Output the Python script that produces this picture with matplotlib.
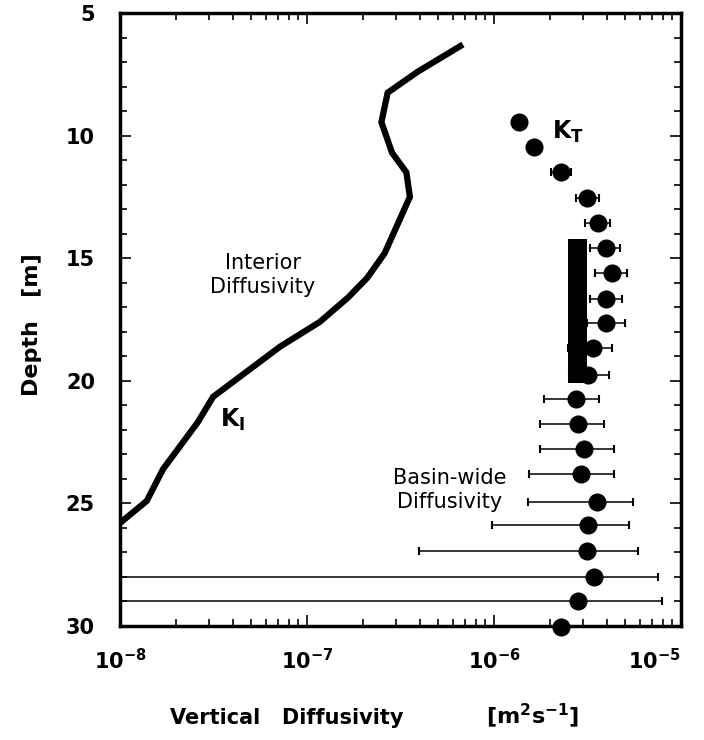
import matplotlib
matplotlib.use("Agg")
import matplotlib.pyplot as plt
import numpy as np
from matplotlib.ticker import FixedLocator, LogLocator, NullFormatter

plt.rcParams['mathtext.fontset'] = 'custom'
plt.rcParams['mathtext.rm'] = 'DejaVu Sans:bold'
plt.rcParams['mathtext.bf'] = 'DejaVu Sans:bold'

# interior diffusivity K_I profile
ki_depth = [6.35, 7.4, 8.25, 9.45, 10.7, 11.5, 12.5, 14.8, 15.8, 16.6, 17.6,
            18.6, 20.65, 21.7, 23.6, 24.9, 25.8, 26.3]
ki_val = [6.6e-7, 3.9e-7, 2.7e-7, 2.5e-7, 2.85e-7, 3.4e-7, 3.55e-7, 2.6e-7,
          2.1e-7, 1.66e-7, 1.17e-7, 7.2e-8, 3.15e-8, 2.6e-8, 1.7e-8, 1.39e-8,
          1.0e-8, 8.5e-9]

# basin-wide diffusivity K_T with error range (None = no bar)
kt_depth = [9.45, 10.45, 11.5, 12.55, 13.55, 14.6, 15.6, 16.65, 17.65, 18.65,
            19.75, 20.75, 21.75, 22.8, 23.8, 24.95, 25.9, 26.95, 28.0, 29.0, 30.05]
kt_val = [1.36e-6, 1.64e-6, 2.28e-6, 3.14e-6, 3.6e-6, 3.97e-6, 4.28e-6, 3.97e-6,
          3.97e-6, 3.38e-6, 3.19e-6, 2.75e-6, 2.81e-6, 3.03e-6, 2.92e-6, 3.56e-6,
          3.19e-6, 3.14e-6, 3.43e-6, 2.81e-6, 2.28e-6]
kt_lo = [None, None, 2.02e-6, 2.75e-6, 3.07e-6, 3.26e-6, 3.47e-6, 3.26e-6,
         3.13e-6, 2.49e-6, 2.52e-6, 1.85e-6, 1.76e-6, 1.76e-6, 1.54e-6, 1.52e-6,
         9.75e-7, 3.97e-7, 1e-9, 1e-9, None]
kt_hi = [None, None, 2.58e-6, 3.64e-6, 4.17e-6, 4.72e-6, 5.14e-6, 4.83e-6,
         5.03e-6, 4.28e-6, 4.12e-6, 3.64e-6, 3.87e-6, 4.39e-6, 4.39e-6, 5.53e-6,
         5.27e-6, 5.89e-6, 7.53e-6, 7.91e-6, None]

# black bar (tracer release estimate)
bar_depth = [14.2, 20.1]
bar_x = [2.5e-6, 3.15e-6]

xtick_vals = [1e-8, 1e-7, 1e-6, 1e-5]
xtick_labels = [r'$10^{-8}$', r'$10^{-7}$', r'$10^{-6}$', r'$10^{-5}$']
ytick_vals = [5, 10, 15, 20, 25, 30]

fig = plt.figure(figsize=(7.04, 7.40), dpi=100)
ax = fig.add_axes([120/704, 1-626/740, 561/704, 613/740])

ax.plot(ki_val, ki_depth, color='black', lw=4.5, solid_joinstyle='miter')

ax.fill_betweenx(bar_depth, bar_x[0], bar_x[1], color='black', lw=0, zorder=3)

idx = [i for i in range(len(kt_val)) if kt_lo[i] is not None]
ex = np.array([kt_val[i] for i in idx])
ey = np.array([kt_depth[i] for i in idx])
lo = np.array([kt_lo[i] for i in idx])
hi = np.array([kt_hi[i] for i in idx])
ax.errorbar(ex, ey, xerr=[ex - lo, hi - ex], fmt='none', ecolor='black',
            elinewidth=1.1, capsize=3, capthick=1.5, zorder=2)
ax.plot(kt_val, kt_depth, 'o', color='black', ms=12, zorder=4, clip_on=False)

ax.set_xscale('log')
ax.set_xlim(1e-8, 1e-5)
ax.set_ylim(30, 5)

ax.yaxis.set_major_locator(FixedLocator(ytick_vals))
ax.yaxis.set_minor_locator(FixedLocator(np.arange(5, 31, 1)))
ax.xaxis.set_major_locator(FixedLocator(xtick_vals))
ax.xaxis.set_minor_locator(LogLocator(base=10, subs=np.arange(2, 10)))
ax.xaxis.set_minor_formatter(NullFormatter())
ax.set_xticklabels(xtick_labels)
ax.set_yticklabels([str(v) for v in ytick_vals])

ax.tick_params(which='both', direction='in', top=True, right=True, width=1.2)
ax.tick_params(which='major', length=8)
ax.tick_params(which='minor', length=5)
ax.tick_params(axis='y', which='major', pad=18, labelsize=15)
ax.tick_params(axis='x', which='major', pad=16, labelsize=15)
for lab in ax.get_yticklabels():
    lab.set_fontweight('bold')
ax.get_xticklabels()[-1].set_horizontalalignment('right')
for s in ax.spines.values():
    s.set_linewidth(2.5)

fig.text(552/704, 1-132/740, r'$\mathbf{K_T}$', fontsize=17, va='center')
fig.text(220/704, 1-420/740, r'$\mathbf{K_I}$', fontsize=17, va='center')
fig.text(263/704, 1-275/740, 'Interior\nDiffusivity', fontsize=15,
         ha='center', va='center', linespacing=1.3, family='DejaVu Sans')
fig.text(450/704, 1-490/740, 'Basin-wide\nDiffusivity', fontsize=15,
         ha='center', va='center', linespacing=1.3, family='DejaVu Sans')

fig.text(287/704, 1-718/740, 'Vertical   Diffusivity', fontsize=15,
         fontweight='bold', ha='center', va='center')
fig.text(533/704, 1-716/740, r'[m$^{2}$s$^{-1}$]', fontsize=16,
         fontweight='bold', ha='center', va='center')
fig.text(32/704, 1-325/740, 'Depth   [m]', fontsize=16, fontweight='bold',
         rotation=90, ha='center', va='center')

fig.savefig('out.png', dpi=100)
